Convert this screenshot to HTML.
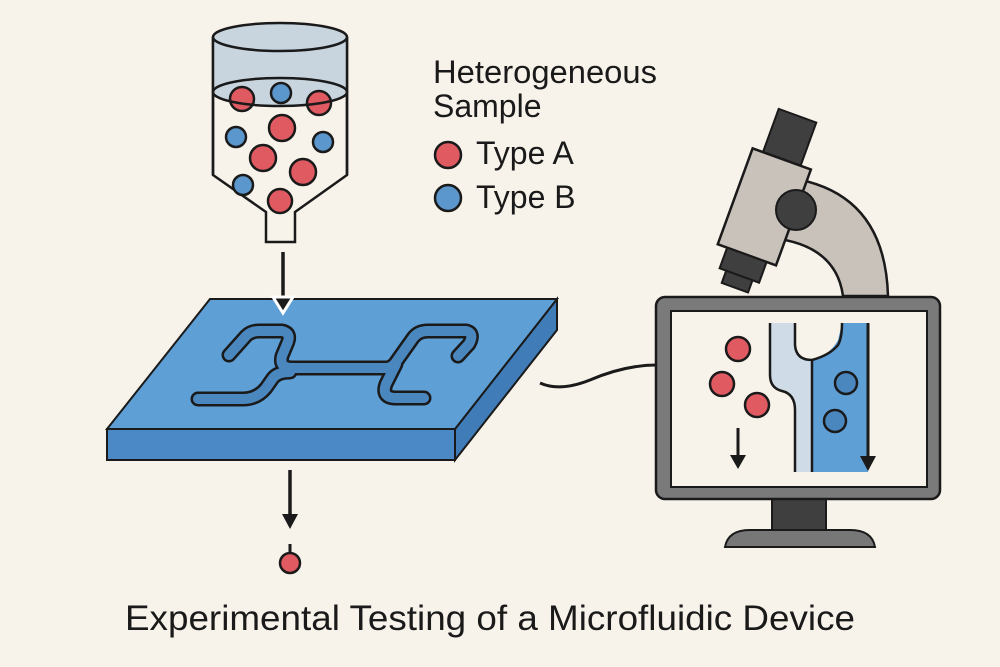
<!DOCTYPE html>
<html><head><style>
html,body{margin:0;padding:0;background:#f8f3ea;}
svg{display:block;}
text{font-family:"Liberation Sans",sans-serif;fill:#1a1a1a;}
</style></head><body>
<svg width="1000" height="667" viewBox="0 0 1000 667" xmlns="http://www.w3.org/2000/svg">
<rect width="1000" height="667" fill="#f8f3ea"/>
<!-- bottle -->
<path d="M213 37 L213 175 L266 212 L266 242 L295 242 L295 212 L347 175 L347 37" fill="#f8f3ea" stroke="#1a1a1a" stroke-width="2.5"/>
<path d="M213 37 L213 92 A67 14 0 0 0 347 92 L347 37 Z" fill="#c9d5de"/>
<path d="M213 92 A67 14 0 0 1 347 92" fill="#c9d5de" stroke="#1a1a1a" stroke-width="2.5"/>
<ellipse cx="280" cy="37" rx="67" ry="14" fill="#c9d5de" stroke="#1a1a1a" stroke-width="2.5"/>
<line x1="213" y1="37" x2="213" y2="175" stroke="#1a1a1a" stroke-width="2.5"/>
<line x1="347" y1="37" x2="347" y2="175" stroke="#1a1a1a" stroke-width="2.5"/>
<g stroke="#1a1a1a" stroke-width="2.5">
<circle cx="242" cy="99" r="12" fill="#e05a62"/>
<circle cx="281" cy="93" r="10" fill="#5b96cc"/>
<circle cx="319" cy="103" r="12" fill="#e05a62"/>
<circle cx="282" cy="128" r="13" fill="#e05a62"/>
<circle cx="236" cy="137" r="10" fill="#5b96cc"/>
<circle cx="323" cy="142" r="10" fill="#5b96cc"/>
<circle cx="263" cy="158" r="13" fill="#e05a62"/>
<circle cx="303" cy="172" r="13" fill="#e05a62"/>
<circle cx="243" cy="185" r="10" fill="#5b96cc"/>
<circle cx="280" cy="201" r="12" fill="#e05a62"/>
</g>
<path d="M213 92 A67 14 0 0 0 347 92" fill="none" stroke="#1a1a1a" stroke-width="2.5"/>
<!-- arrow down to slab -->
<line x1="283" y1="252" x2="283" y2="300" stroke="#1a1a1a" stroke-width="3.5"/>
<!-- slab -->
<polygon points="107,429 455,429 455,460 107,460" fill="#4a89c6" stroke="#1a1a1a" stroke-width="2"/>
<polygon points="455,429 557,299 557,330 455,460" fill="#3f7cb8" stroke="#1a1a1a" stroke-width="2"/>
<polygon points="210,299 557,299 455,429 107,429" fill="#5e9fd6" stroke="#1a1a1a" stroke-width="2"/>
<polygon points="273,297 293,297 283,313" fill="#1a1a1a" stroke="#fff" stroke-width="3"/>
<g fill="none" stroke-linecap="round" stroke-linejoin="round">
<g stroke="#1a1a1a" stroke-width="15">
<path d="M229 355 L246 336 Q251 331 259 331 L282 331 Q292 333 287 344 L282 356 Q279 368 292 368 L386 368"/>
<path d="M198 399 L243 399 Q257 399 266 388 L273 378 Q278 372 290 372"/>
<path d="M386 368 Q392 368 396 362 L413 338 Q418 331 428 331 L466 331 Q475 333 469 344 L458 356"/>
<path d="M396 364 L386 384 Q381 398 396 398 L424 398"/>
</g>
<g stroke="#4b87bf" stroke-width="10">
<path d="M229 355 L246 336 Q251 331 259 331 L282 331 Q292 333 287 344 L282 356 Q279 368 292 368 L386 368"/>
<path d="M198 399 L243 399 Q257 399 266 388 L273 378 Q278 372 290 372"/>
<path d="M386 368 Q392 368 396 362 L413 338 Q418 331 428 331 L466 331 Q475 333 469 344 L458 356"/>
<path d="M396 364 L386 384 Q381 398 396 398 L424 398"/>
</g>
</g>
<!-- cable -->
<path d="M540 383 Q560 392 590 380 Q625 365 657 365" fill="none" stroke="#1a1a1a" stroke-width="3"/>
<!-- arrow below -->
<line x1="290" y1="470" x2="290" y2="516" stroke="#1a1a1a" stroke-width="3.5"/>
<polygon points="282,514 298,514 290,529" fill="#1a1a1a"/>
<line x1="290" y1="544" x2="290" y2="553" stroke="#1a1a1a" stroke-width="3"/>
<circle cx="290" cy="563" r="10" fill="#e05a62" stroke="#1a1a1a" stroke-width="2.5"/>
<!-- microscope arm -->
<path d="M790 178 Q885 192 888 296 L843 296 Q836 245 772 238 Z" fill="#c8c2bb" stroke="#1a1a1a" stroke-width="2.5"/>
<g transform="rotate(20 765 205)">
<rect x="745" y="110" width="40" height="52" fill="#3f3f3f" stroke="#1a1a1a" stroke-width="2"/>
<rect x="734" y="156" width="62" height="102" fill="#c8c2bb" stroke="#1a1a1a" stroke-width="2.5"/>
<rect x="744" y="258" width="42" height="22" fill="#3f3f3f" stroke="#1a1a1a" stroke-width="2"/>
<rect x="751" y="280" width="28" height="13" fill="#3f3f3f" stroke="#1a1a1a" stroke-width="2"/>
</g>
<circle cx="796" cy="210" r="20" fill="#3f3f3f" stroke="#1a1a1a" stroke-width="2"/>
<!-- monitor -->
<rect x="772" y="498" width="54" height="36" fill="#3f3f3f" stroke="#1a1a1a" stroke-width="2"/>
<path d="M725 547 Q728 530 750 530 L850 530 Q872 530 875 547 Z" fill="#777" stroke="#1a1a1a" stroke-width="2"/>
<rect x="656" y="297" width="284" height="202" rx="9" fill="#7a7a7a" stroke="#1a1a1a" stroke-width="2.5"/>
<rect x="671" y="311" width="256" height="176" fill="#f8f3ea" stroke="#1a1a1a" stroke-width="2"/>
<path d="M770 323 L795 323 L795 345 Q796 360 812 360 L812 472 L795 472 L795 405 Q794 392 780 390 Q770 388 770 375 Z" fill="#cfdbe6"/>
<path d="M812 360 Q830 355 838 340 L842 323 L868 323 L868 472 L812 472 Z" fill="#5e9fd6"/>
<g fill="none" stroke="#1a1a1a" stroke-width="2.5">
<path d="M770 323 L770 375 Q770 388 782 391 Q795 394 795 410 L795 472"/>
<path d="M795 323 L795 345 Q796 360 812 360 L812 472"/>
<path d="M812 360 Q830 355 838 345 Q842 338 842 323"/>
</g>
<line x1="868" y1="323" x2="868" y2="458" stroke="#1a1a1a" stroke-width="3"/>
<polygon points="860,456 876,456 868,471" fill="#1a1a1a"/>
<g stroke="#1a1a1a" stroke-width="2.5">
<circle cx="738" cy="349" r="12" fill="#e05a62"/>
<circle cx="722" cy="384" r="12" fill="#e05a62"/>
<circle cx="757" cy="405" r="12" fill="#e05a62"/>
<circle cx="846" cy="383" r="11" fill="#4b87bf"/>
<circle cx="835" cy="421" r="11" fill="#4b87bf"/>
</g>
<line x1="738" y1="428" x2="738" y2="456" stroke="#1a1a1a" stroke-width="3"/>
<polygon points="730,455 746,455 738,469" fill="#1a1a1a"/>
<!-- legend -->
<text x="433" y="83" font-size="32" textLength="224" lengthAdjust="spacingAndGlyphs">Heterogeneous</text>
<text x="433" y="117" font-size="32">Sample</text>
<circle cx="448" cy="155" r="13" fill="#e05a62" stroke="#1a1a1a" stroke-width="2.5"/>
<circle cx="448" cy="198" r="13" fill="#5b96cc" stroke="#1a1a1a" stroke-width="2.5"/>
<text x="476" y="164" font-size="32">Type A</text>
<text x="476" y="208" font-size="32">Type B</text>
<!-- title -->
<text x="125" y="630" font-size="35" textLength="730" lengthAdjust="spacingAndGlyphs">Experimental Testing of a Microfluidic Device</text>
</svg>
</body></html>
